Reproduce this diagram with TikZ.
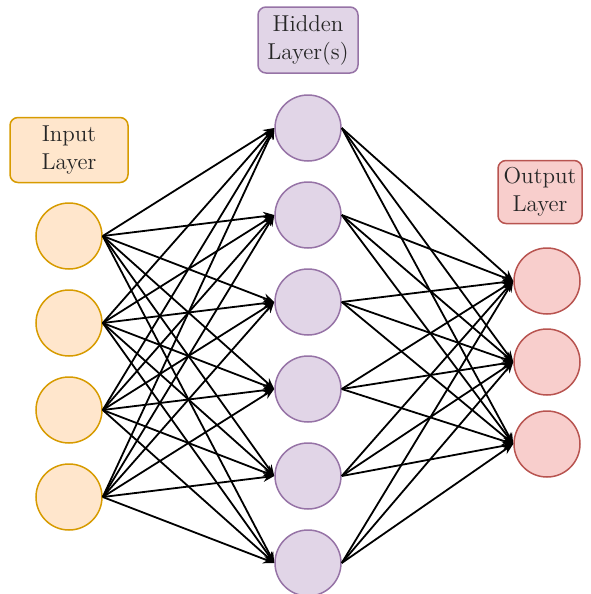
\documentclass[tikz,border=0pt]{standalone}
\usetikzlibrary{arrows.meta}

\definecolor{infill}{HTML}{FFE6CC}
\definecolor{indraw}{HTML}{D79B00}
\definecolor{hidfill}{HTML}{E1D5E7}
\definecolor{hiddraw}{HTML}{9673A6}
\definecolor{outfill}{HTML}{F8CECC}
\definecolor{outdraw}{HTML}{B85450}

\tikzset{
	neuron/.style={circle, minimum size=33pt, inner sep=0pt, line width=0.75pt},
	layerbox/.style={rounded corners=4pt, line width=0.75pt, align=center, inner sep=0pt,
		text=black!85, font=\rmfamily\fontsize{11.5}{14}\selectfont},
	link/.style={->, line width=0.9pt}
}

\begin{document}
\begin{tikzpicture}[x=0.5pt, y=-0.5pt, >={Stealth[length=5.5pt, width=4.5pt]}]
	\useasboundingbox (0,0) rectangle (590,594);
	% layer labels
	\node[layerbox, fill=infill, draw=indraw, minimum width=59pt, minimum height=32.5pt] (inlabel) at (69,150) {Input\\Layer};
	\node[layerbox, fill=hidfill, draw=hiddraw, minimum width=50pt, minimum height=33pt] (hidlabel) at (308,40) {Hidden\\Layer(s)};
	\node[layerbox, fill=outfill, draw=outdraw, minimum width=42pt, minimum height=31.5pt] (outlabel) at (540,192) {Output\\Layer};
	% input layer
	\node[neuron, fill=infill, draw=indraw] (in1) at (69,236) {};
	\node[neuron, fill=infill, draw=indraw] (in2) at (69,323) {};
	\node[neuron, fill=infill, draw=indraw] (in3) at (69,410) {};
	\node[neuron, fill=infill, draw=indraw] (in4) at (69,497) {};
	% hidden layer
	\node[neuron, fill=hidfill, draw=hiddraw] (hid1) at (308,128) {};
	\node[neuron, fill=hidfill, draw=hiddraw] (hid2) at (308,215) {};
	\node[neuron, fill=hidfill, draw=hiddraw] (hid3) at (308,302) {};
	\node[neuron, fill=hidfill, draw=hiddraw] (hid4) at (308,389) {};
	\node[neuron, fill=hidfill, draw=hiddraw] (hid5) at (308,476) {};
	\node[neuron, fill=hidfill, draw=hiddraw] (hid6) at (308,563) {};
	% output layer
	\node[neuron, fill=outfill, draw=outdraw] (out1) at (547,281) {};
	\node[neuron, fill=outfill, draw=outdraw] (out2) at (547,362) {};
	\node[neuron, fill=outfill, draw=outdraw] (out3) at (547,444) {};
	% connections
	\foreach \i in {1,...,4}
		\foreach \j in {1,...,6}
			\draw[link] (in\i.east) -- (hid\j.west);
	\foreach \j in {1,...,6}
		\foreach \k in {1,...,3}
			\draw[link] (hid\j.east) -- (out\k.west);
\end{tikzpicture}
\end{document}
